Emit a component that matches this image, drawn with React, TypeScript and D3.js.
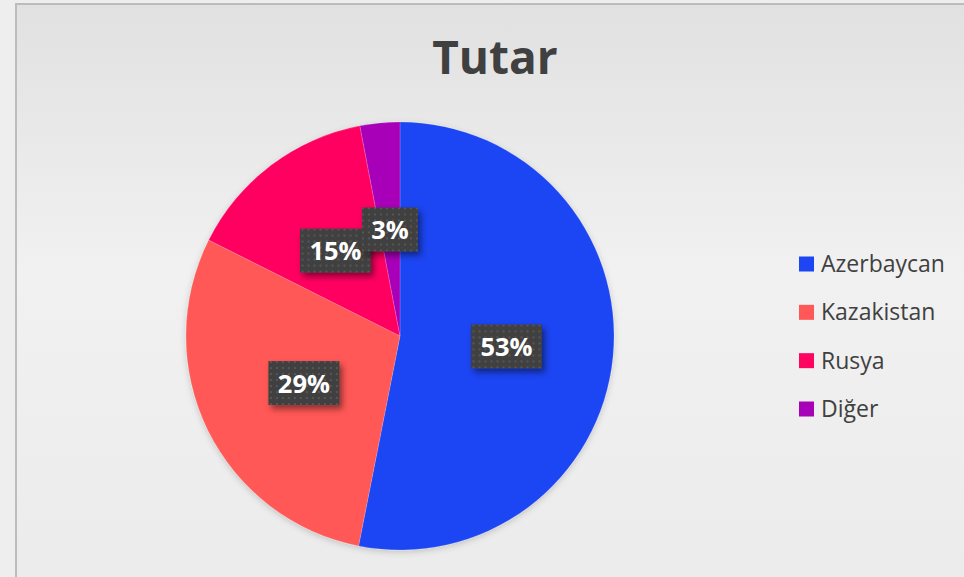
import React, { useRef, useEffect } from 'react';
import * as d3 from 'd3';

const categories = ['Azerbaycan', 'Kazakistan', 'Rusya', 'Diğer'];
const values = [53.1, 29.3, 14.6, 3.0];
const colors = ['#1e45f3', '#ff5856', '#ff0461', '#a802b8'];
const title = 'Tutar';

const width = 964;
const height = 577;

const App = () => {
    const d3Container = useRef(null);

    useEffect(() => {
        if (!d3Container.current) {
            return;
        }
        const svg = d3.select(d3Container.current);
        svg.selectAll('*').remove();

        const defs = svg.append('defs');

        const bg = defs.append('linearGradient')
            .attr('id', 'bg')
            .attr('x1', 0).attr('y1', 0).attr('x2', 0).attr('y2', 1);
        bg.append('stop').attr('offset', '0%').attr('stop-color', '#e1e1e1');
        bg.append('stop').attr('offset', '45%').attr('stop-color', '#f1f1f1');
        bg.append('stop').attr('offset', '100%').attr('stop-color', '#ebebeb');

        const dots = defs.append('pattern')
            .attr('id', 'dots')
            .attr('width', 6).attr('height', 6)
            .attr('patternUnits', 'userSpaceOnUse');
        dots.append('rect').attr('width', 6).attr('height', 6).attr('fill', '#404040');
        dots.append('rect').attr('x', 2).attr('y', 2).attr('width', 2).attr('height', 2).attr('fill', '#565656');

        const shadow = defs.append('filter').attr('id', 'shadow')
            .attr('x', '-30%').attr('y', '-30%').attr('width', '160%').attr('height', '160%');
        shadow.append('feDropShadow')
            .attr('dx', 3).attr('dy', 4).attr('stdDeviation', 3)
            .attr('flood-color', '#000').attr('flood-opacity', 0.45);

        const pieShadow = defs.append('filter').attr('id', 'pieShadow')
            .attr('x', '-10%').attr('y', '-10%').attr('width', '120%').attr('height', '120%');
        pieShadow.append('feDropShadow')
            .attr('dx', 0).attr('dy', 2).attr('stdDeviation', 3)
            .attr('flood-color', '#000').attr('flood-opacity', 0.18);

        /* page + chart area */
        svg.append('rect').attr('width', width).attr('height', height).attr('fill', '#eeeeee');
        svg.append('rect')
            .attr('x', 16).attr('y', 4)
            .attr('width', width + 20).attr('height', height + 20)
            .attr('fill', 'url(#bg)')
            .attr('stroke', '#bcbcbc')
            .attr('stroke-width', 2);

        svg.append('text')
            .attr('x', 495).attr('y', 74)
            .attr('text-anchor', 'middle')
            .attr('font-family', 'Open Sans')
            .attr('font-weight', 700)
            .attr('font-size', 46)
            .attr('fill', '#404040')
            .text(title);

        /* pie */
        const cx = 400;
        const cy = 336;
        const radius = 214;
        const total = d3.sum(values);

        const pie = d3.pie<number>().sort(null).value(d => d);
        const arcs = pie(values);
        const arc = d3.arc<d3.PieArcDatum<number>>().innerRadius(0).outerRadius(radius);

        const g = svg.append('g').attr('transform', `translate(${cx},${cy})`);
        g.append('g').attr('filter', 'url(#pieShadow)')
            .selectAll('path').data(arcs)
            .enter()
            .append('path')
                .attr('d', arc)
                .attr('fill', (d, i) => colors[i])
                .attr('stroke', 'rgba(255,255,255,0.25)')
                .attr('stroke-width', 0.6);

        /* data labels */
        const labels = g.selectAll('g.label').data(arcs)
            .enter()
            .append('g')
                .attr('class', 'label')
                .attr('transform', d => {
                    const [x, y] = arc.centroid(d);
                    return `translate(${x},${y})`;
                });

        labels.each(function (d) {
            const txt = Math.round(d.value / total * 100) + '%';
            const w = txt.length * 15 + 26;
            const h = 44;
            const sel = d3.select(this);
            sel.append('rect')
                .attr('x', -w / 2).attr('y', -h / 2)
                .attr('width', w).attr('height', h)
                .attr('fill', 'url(#dots)')
                .attr('filter', 'url(#shadow)');
            sel.append('text')
                .attr('text-anchor', 'middle')
                .attr('y', 9.5)
                .attr('font-family', 'Open Sans')
                .attr('font-weight', 700)
                .attr('font-size', 25.5)
                .attr('fill', '#ffffff')
                .text(txt);
        });

        /* legend */
        const legendY = d3.scalePoint<string>()
            .domain(categories)
            .range([264, 409]);

        const legend = svg.append('g').selectAll('g').data(categories)
            .enter()
            .append('g')
                .attr('transform', d => `translate(799,${legendY(d)})`);
        legend.append('rect')
            .attr('x', 0).attr('y', -7.5)
            .attr('width', 15).attr('height', 15)
            .attr('fill', (d, i) => colors[i]);
        legend.append('text')
            .attr('x', 22).attr('y', 8)
            .attr('font-family', 'Open Sans')
            .attr('font-size', 23)
            .attr('fill', '#404040')
            .text(d => d);
    }, []);

    return (
        <svg
            width={width}
            height={height}
            ref={d3Container}
            style={{ position: 'absolute', left: 0, top: 0 }}
        />
    );
};

export default App;
